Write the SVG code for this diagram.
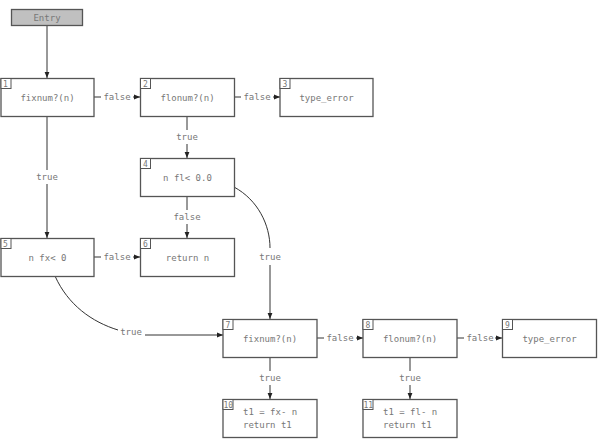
<svg xmlns="http://www.w3.org/2000/svg" width="599" height="440" viewBox="0 0 599 440">
<defs>
<marker id="ah" viewBox="0 0 10 10" refX="10" refY="5" markerWidth="6" markerHeight="6" orient="auto" markerUnits="userSpaceOnUse"><path d="M0,1 L10,5 L0,9 z" fill="#222"/></marker>
<style>
.n rect.b{fill:#fff;stroke:#555;stroke-width:1.3}
.n rect.k{fill:#fff;stroke:#555;stroke-width:1}
.t{font-family:"DejaVu Sans Mono","Liberation Mono",monospace;font-size:9px;fill:#777}
.c{text-anchor:middle}
.num{font-family:"DejaVu Sans Mono","Liberation Mono",monospace;font-size:8px;fill:#777}
.e{fill:none;stroke:#333;stroke-width:1;marker-end:url(#ah)}
.l{fill:none;stroke:#333;stroke-width:1}
.lb{font-family:"DejaVu Sans Mono","Liberation Mono",monospace;font-size:9px;fill:#777;text-anchor:middle}
</style>
</defs>
<rect width="599" height="440" fill="#fff"/>
<g id="edges">
<path class="e" d="M47,25 V78"/>
<path class="l" d="M94,97 H101"/><path class="e" d="M133,97 H140"/>
<text class="lb" x="117" y="100">false</text>
<path class="l" d="M234,97 H241"/><path class="e" d="M273,97 H280"/>
<text class="lb" x="257" y="100">false</text>
<path class="l" d="M187,116 V130"/><path class="e" d="M187,144 V158"/>
<text class="lb" x="187" y="140">true</text>
<path class="l" d="M47,116 V170"/><path class="e" d="M47,184 V238"/>
<text class="lb" x="47" y="180">true</text>
<path class="l" d="M187,196 V210"/><path class="e" d="M187,224 V238"/>
<text class="lb" x="187" y="220">false</text>
<path class="l" d="M94,257 H101"/><path class="e" d="M133,257 H140"/>
<text class="lb" x="117" y="260">false</text>
<path class="l" d="M234,187 C258,200 270,225 270,248"/><path class="e" d="M270,265 V319"/>
<text class="lb" x="270" y="260">true</text>
<path class="l" d="M55,276 C68,305 92,322 118,330"/><path class="e" d="M145,335 H223"/>
<text class="lb" x="131" y="335">true</text>
<path class="l" d="M317,338 H324"/><path class="e" d="M356,338 H363"/>
<text class="lb" x="340" y="341">false</text>
<path class="l" d="M457,338 H464"/><path class="e" d="M495,338 H502"/>
<text class="lb" x="480" y="341">false</text>
<path class="l" d="M270,357 V371"/><path class="e" d="M270,385 V399"/>
<text class="lb" x="270" y="381">true</text>
<path class="l" d="M410,357 V371"/><path class="e" d="M410,385 V399"/>
<text class="lb" x="410" y="381">true</text>
</g>
<g id="entry" class="n"><rect x="11.5" y="9.5" width="71" height="16" fill="#c0c0c0" stroke="#555" stroke-width="1.3"/><text class="t c" x="47" y="20.5">Entry</text></g>
<g id="n1" class="n"><rect class="b" x="1" y="78.5" width="93" height="38"/><rect class="k" x="1" y="78.5" width="10" height="10"/><text class="num" x="3" y="86.5">1</text><text class="t c" x="47.5" y="100.5">fixnum?(n)</text></g>
<g id="n2" class="n"><rect class="b" x="140.5" y="78.5" width="94" height="38"/><rect class="k" x="140.5" y="78.5" width="10" height="10"/><text class="num" x="143" y="86.5">2</text><text class="t c" x="187.5" y="100.5">flonum?(n)</text></g>
<g id="n3" class="n"><rect class="b" x="280" y="78.5" width="93" height="38"/><rect class="k" x="280" y="78.5" width="10" height="10"/><text class="num" x="282.5" y="86.5">3</text><text class="t c" x="326.5" y="100.5">type_error</text></g>
<g id="n4" class="n"><rect class="b" x="140.5" y="158.5" width="94" height="38"/><rect class="k" x="140.5" y="158.5" width="10" height="10"/><text class="num" x="143" y="166.5">4</text><text class="t c" x="187.5" y="180.5">n fl&lt; 0.0</text></g>
<g id="n5" class="n"><rect class="b" x="1" y="238.5" width="93" height="38"/><rect class="k" x="1" y="238.5" width="10" height="10"/><text class="num" x="3" y="246.5">5</text><text class="t c" x="47.5" y="260.5">n fx&lt; 0</text></g>
<g id="n6" class="n"><rect class="b" x="140.5" y="238.5" width="94" height="38"/><rect class="k" x="140.5" y="238.5" width="10" height="10"/><text class="num" x="143" y="246.5">6</text><text class="t c" x="187.5" y="260.5">return n</text></g>
<g id="n7" class="n"><rect class="b" x="223" y="319.5" width="94" height="38"/><rect class="k" x="223" y="319.5" width="10" height="10"/><text class="num" x="225.5" y="327.5">7</text><text class="t c" x="270" y="341.5">fixnum?(n)</text></g>
<g id="n8" class="n"><rect class="b" x="363" y="319.5" width="94" height="38"/><rect class="k" x="363" y="319.5" width="10" height="10"/><text class="num" x="365.5" y="327.5">8</text><text class="t c" x="410" y="341.5">flonum?(n)</text></g>
<g id="n9" class="n"><rect class="b" x="502.5" y="319.5" width="94" height="38"/><rect class="k" x="502.5" y="319.5" width="10" height="10"/><text class="num" x="505" y="327.5">9</text><text class="t c" x="549.5" y="341.5">type_error</text></g>
<g id="n10" class="n"><rect class="b" x="223" y="399.5" width="94" height="38"/><rect class="k" x="223" y="399.5" width="10" height="10"/><text class="num" x="223.5" y="407.5">10</text><text class="t" x="243" y="415">t1 = fx- n</text><text class="t" x="243" y="428">return t1</text></g>
<g id="n11" class="n"><rect class="b" x="363" y="399.5" width="94" height="38"/><rect class="k" x="363" y="399.5" width="10" height="10"/><text class="num" x="363.5" y="407.5">11</text><text class="t" x="383" y="415">t1 = fl- n</text><text class="t" x="383" y="428">return t1</text></g>
</svg>
